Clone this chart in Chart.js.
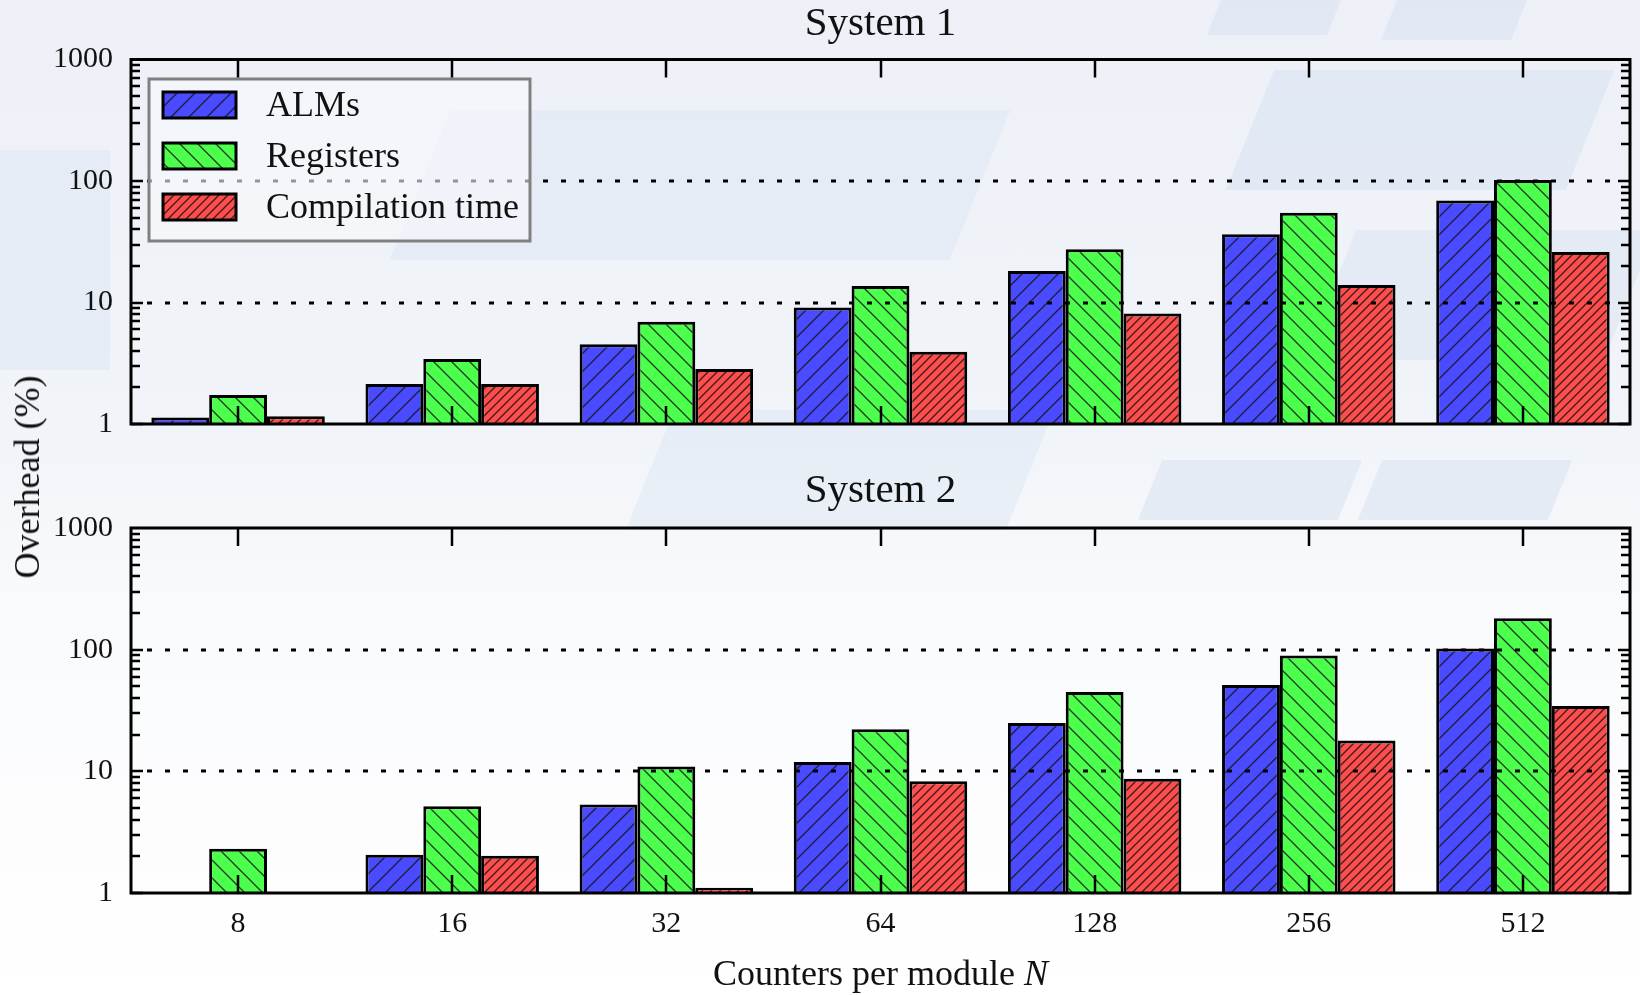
<!DOCTYPE html>
<html lang="en">
<head>
    <meta charset="UTF-8">
    <title>Overhead vs counters per module</title>
    <script src="https://cdn.jsdelivr.net/npm/chart.js@4"></script>
    <style>
        html, body { margin: 0; padding: 0; }
        body {
            width: 1640px; height: 995px; position: relative; overflow: hidden;
            background: linear-gradient(180deg, #edf1f7 0%, #f1f4f9 45%, #f9fafc 60%, #ffffff 100%);
            font-family: "Liberation Serif", serif;
        }
        .deco { position: absolute; background: rgba(204, 217, 236, 0.38); transform: skewX(-22deg); }
        canvas { position: absolute; left: 0; }
        #topChart { top: 0; }
        #bottomChart { top: 450px; }
        #ytitle {
            position: absolute; left: 27px; top: 477px;
            transform: translate(-50%, -50%) rotate(-90deg);
            font-size: 36px; white-space: nowrap; color: #111;
        }
    </style>
</head>
<body>
    <!-- faint background shapes -->
    <div class="deco" style="left:1215px; top:-5px; width:120px; height:40px;"></div>
    <div class="deco" style="left:1390px; top:-5px; width:130px; height:45px;"></div>
    <div class="deco" style="left:420px; top:110px; width:560px; height:150px; background:rgba(210,222,238,0.3);"></div>
    <div class="deco" style="left:1250px; top:70px; width:340px; height:120px;"></div>
    <div class="deco" style="left:1330px; top:230px; width:300px; height:130px; background:rgba(205,218,236,0.3);"></div>
    <div class="deco" style="left:650px; top:410px; width:380px; height:120px; background:rgba(210,222,238,0.3);"></div>
    <div class="deco" style="left:1150px; top:460px; width:200px; height:60px;"></div>
    <div class="deco" style="left:1370px; top:460px; width:190px; height:60px;"></div>
    <div class="deco" style="left:0px; top:150px; width:110px; height:220px; background:rgba(210,222,238,0.3); transform:none;"></div>

    <canvas id="topChart" width="1640" height="460"></canvas>
    <canvas id="bottomChart" width="1640" height="545"></canvas>
    <div id="ytitle">Overhead (%)</div>

    <script>
        // Data (log scale, percent)
        const counters = ['8', '16', '32', '64', '128', '256', '512'];
        const seriesNames = ['ALMs', 'Registers', 'Compilation time'];

        const sys1ALMs = [1.13, 2.13, 4.54, 9.1, 18.2, 36.4, 69.2];
        const sys1Registers = [1.73, 3.42, 6.93, 13.7, 27.4, 54.9, 101.7];
        const sys1Compile = [1.16, 2.13, 2.83, 3.93, 8.1, 13.9, 26.0];

        const sys2ALMs = [null, 2.06, 5.35, 11.96, 25.0, 51.3, 102.3];
        const sys2Registers = [2.31, 5.17, 10.96, 22.2, 44.8, 89.5, 181];
        const sys2Compile = [null, 2.02, 1.106, 8.27, 8.67, 17.9, 34.5];

        const yTicks = [1, 10, 100, 1000];
        const gridValues = [10, 100];

        const FONT = 'Liberation Serif';
        Chart.defaults.font.family = FONT;
        Chart.defaults.color = '#111';

        // hatched fill for the bars
        function hatch(fill, size, dir) {
            const c = document.createElement('canvas');
            c.width = size; c.height = size;
            const g = c.getContext('2d');
            g.fillStyle = fill;
            g.fillRect(0, 0, size, size);
            g.strokeStyle = 'rgba(20,20,20,0.85)';
            g.lineWidth = 1.3;
            g.beginPath();
            if (dir === '/') {
                g.moveTo(-1, size + 1); g.lineTo(size + 1, -1);
                g.moveTo(-1, 1); g.lineTo(1, -1);
                g.moveTo(size - 1, size + 1); g.lineTo(size + 1, size - 1);
            } else {
                g.moveTo(-1, -1); g.lineTo(size + 1, size + 1);
                g.moveTo(size - 1, -1); g.lineTo(size + 1, 1);
                g.moveTo(-1, size - 1); g.lineTo(1, size + 1);
            }
            g.stroke();
            return g.createPattern(c, 'repeat');
        }

        const fills = [
            hatch('#4a4aff', 18, '/'),
            hatch('#4dff4d', 18, '\\'),
            hatch('#ff4d4d', 9, '/')
        ];

        function makeDatasets(values) {
            return values.map((data, i) => ({
                label: seriesNames[i],
                data: data,
                backgroundColor: fills[i],
                borderColor: '#000',
                borderWidth: 3,
                categoryPercentage: 0.81,
                barPercentage: 1.0
            }));
        }

        function drawLegend(chart) {
            const ctx = chart.ctx;
            const bx = 149, by = 79, bw = 381, bh = 162;
            ctx.save();
            ctx.fillStyle = 'rgba(246,248,251,0.6)';
            ctx.fillRect(bx, by, bw, bh);
            ctx.strokeStyle = '#808080';
            ctx.lineWidth = 3;
            ctx.strokeRect(bx, by, bw, bh);
            chart.data.datasets.forEach((ds, i) => {
                const cy = by + 26 + i * 51;
                ctx.fillStyle = ds.backgroundColor;
                ctx.fillRect(163, cy - 13, 73, 26);
                ctx.strokeStyle = '#000';
                ctx.lineWidth = 3;
                ctx.strokeRect(163, cy - 13, 73, 26);
                ctx.fillStyle = '#111';
                ctx.font = '36px "' + FONT + '"';
                ctx.textBaseline = 'middle';
                ctx.textAlign = 'left';
                ctx.fillText(ds.label, 266, cy + 2);
            });
            ctx.restore();
        }

        function framePlugin(withLegend, withXTitle) {
            return {
                id: 'frame',
                afterDatasetsDraw(chart) {
                    const { ctx, chartArea: a, scales: { y } } = chart;
                    ctx.save();
                    ctx.strokeStyle = '#000';
                    ctx.lineWidth = 3;
                    ctx.setLineDash([5, 13]);
                    gridValues.forEach(v => {
                        const py = Math.round(y.getPixelForValue(v));
                        ctx.beginPath();
                        ctx.moveTo(a.left + 16, py);
                        ctx.lineTo(a.right - 14, py);
                        ctx.stroke();
                    });
                    ctx.restore();
                    if (withLegend) drawLegend(chart);
                },
                afterDraw(chart) {
                    const { ctx, chartArea: a, scales: { x, y } } = chart;
                    ctx.save();
                    ctx.strokeStyle = '#000';
                    ctx.lineWidth = 2.5;
                    ctx.beginPath();
                    counters.forEach((c, i) => {
                        const px = Math.round(x.getPixelForValue(i));
                        ctx.moveTo(px, a.bottom); ctx.lineTo(px, a.bottom - 18);
                        ctx.moveTo(px, a.top); ctx.lineTo(px, a.top + 18);
                    });
                    yTicks.slice(0, -1).forEach(d => {
                        for (let m = 1; m <= 9; m++) {
                            const py = Math.round(y.getPixelForValue(d * m));
                            const len = m === 1 ? 12 : 9;
                            ctx.moveTo(a.left, py); ctx.lineTo(a.left + len, py);
                            ctx.moveTo(a.right, py); ctx.lineTo(a.right - len, py);
                        }
                    });
                    ctx.stroke();
                    ctx.lineWidth = 3;
                    ctx.strokeRect(a.left, a.top, a.right - a.left, a.bottom - a.top);

                    if (withXTitle) {
                        const part1 = 'Counters per module ';
                        const part2 = 'N';
                        const f1 = '36px "' + FONT + '"';
                        const f2 = 'italic 36px "' + FONT + '"';
                        ctx.font = f1;
                        const w1 = ctx.measureText(part1).width;
                        ctx.font = f2;
                        const w2 = ctx.measureText(part2).width;
                        const sx = (a.left + a.right) / 2 - (w1 + w2) / 2;
                        const ty = 526;
                        ctx.fillStyle = '#111';
                        ctx.textBaseline = 'middle';
                        ctx.textAlign = 'left';
                        ctx.font = f1;
                        ctx.fillText(part1, sx, ty);
                        ctx.font = f2;
                        ctx.fillText(part2, sx + w1, ty);
                    }
                    ctx.restore();
                }
            };
        }

        function yScale() {
            return {
                type: 'logarithmic',
                min: 1,
                max: 1000,
                afterBuildTicks: s => { s.ticks = yTicks.map(v => ({ value: v })); },
                afterFit: s => { s.width = 131; },
                ticks: {
                    font: { family: FONT, size: 30 },
                    color: '#111',
                    padding: 18,
                    callback: v => String(v)
                },
                grid: { display: false, drawTicks: false },
                border: { display: false }
            };
        }

        function makeChart(canvasId, title, titlePadding, values, opts) {
            return new Chart(document.getElementById(canvasId), {
                type: 'bar',
                data: { labels: counters, datasets: makeDatasets(values) },
                options: {
                    responsive: false,
                    animation: false,
                    layout: { padding: { left: 0, right: 10, top: 0, bottom: opts.bottomPad } },
                    plugins: {
                        legend: { display: false },
                        tooltip: { enabled: false },
                        title: {
                            display: true,
                            text: title,
                            fullSize: false,
                            color: '#111',
                            font: { family: FONT, size: 41, weight: 'normal' },
                            padding: titlePadding
                        }
                    },
                    scales: {
                        x: opts.xAxis,
                        y: yScale()
                    }
                },
                plugins: [framePlugin(opts.legend, opts.xTitle)]
            });
        }

        makeChart('topChart', 'System 1', { top: 0, bottom: 10.3 },
            [sys1ALMs, sys1Registers, sys1Compile],
            {
                bottomPad: 0,
                legend: true,
                xTitle: false,
                xAxis: { type: 'category', display: false }
            });

        makeChart('bottomChart', 'System 2', { top: 17, bottom: 11.8 },
            [sys2ALMs, sys2Registers, sys2Compile],
            {
                bottomPad: 0,
                legend: false,
                xTitle: true,
                xAxis: {
                    type: 'category',
                    afterFit: s => { s.height = 102; },
                    ticks: { font: { family: FONT, size: 30 }, color: '#111', padding: 13, maxRotation: 0 },
                    grid: { display: false, drawTicks: false },
                    border: { display: false }
                }
            });
    </script>
</body>
</html>
